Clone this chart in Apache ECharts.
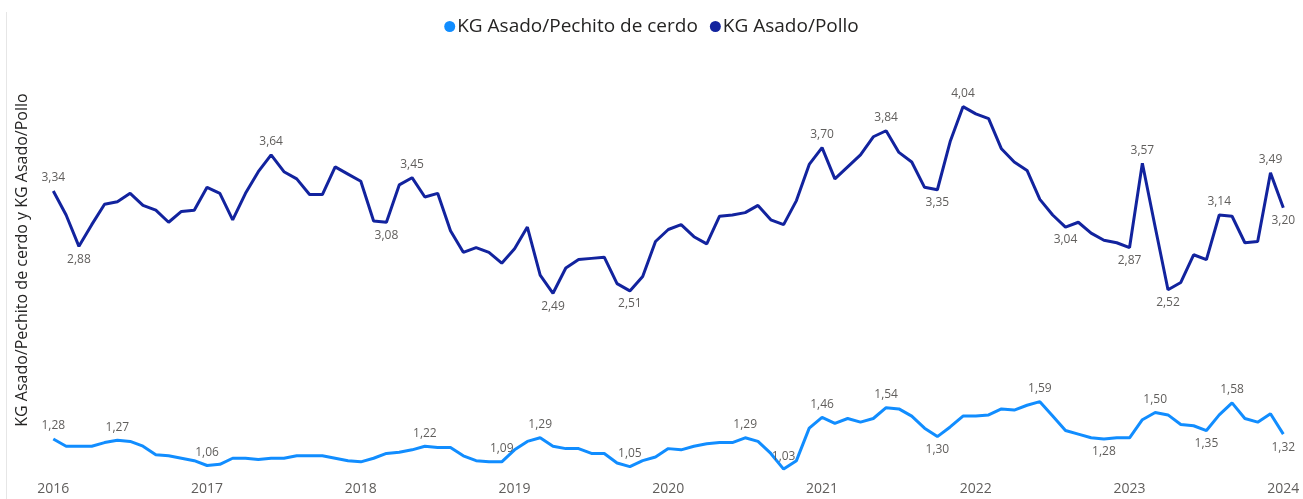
<!DOCTYPE html>
<html>
<head>
<meta charset="utf-8">
<script src="https://cdn.jsdelivr.net/npm/echarts@6/dist/echarts.min.js"></script>
<style>html,body{margin:0;padding:0;background:#fff}#c{width:1303px;height:499px}</style>
</head>
<body>
<div id="c"></div>
<script>
// Monthly categories Jan 2016 .. Jan 2024
const years = [2016, 2017, 2018, 2019, 2020, 2021, 2022, 2023, 2024];
const months = [];
years.forEach(function (y) {
  for (let m = 1; m <= 12; m++) {
    if (y === 2024 && m > 1) break;
    months.push(y + '-' + (m < 10 ? '0' + m : m));
  }
});

const seriesNames = ['KG Asado/Pechito de cerdo', 'KG Asado/Pollo'];

const pechito = [
  1.28, 1.22, 1.22, 1.22, 1.25, 1.27, 1.26, 1.22, 1.15, 1.14, 1.12, 1.10,
  1.06, 1.07, 1.12, 1.12, 1.11, 1.12, 1.12, 1.14, 1.14, 1.14, 1.12, 1.10,
  1.09, 1.12, 1.16, 1.17, 1.19, 1.22, 1.21, 1.21, 1.14, 1.10, 1.09, 1.09,
  1.19, 1.26, 1.29, 1.22, 1.20, 1.20, 1.16, 1.16, 1.08, 1.05, 1.10, 1.13,
  1.20, 1.19, 1.22, 1.24, 1.25, 1.25, 1.29, 1.26, 1.16, 1.03, 1.10, 1.37,
  1.46, 1.41, 1.45, 1.42, 1.45, 1.54, 1.53, 1.47, 1.37, 1.30, 1.38, 1.47,
  1.47, 1.48, 1.53, 1.52, 1.56, 1.59, 1.47, 1.35, 1.32, 1.29, 1.28, 1.29,
  1.29, 1.44, 1.50, 1.48, 1.40, 1.39, 1.35, 1.48, 1.58, 1.45, 1.42, 1.49,
  1.32
];

const pollo = [
  3.34, 3.14, 2.88, 3.06, 3.23, 3.25, 3.32, 3.22, 3.18, 3.08, 3.17, 3.18,
  3.37, 3.32, 3.10, 3.32, 3.50, 3.64, 3.50, 3.44, 3.31, 3.31, 3.54, 3.48,
  3.42, 3.09, 3.08, 3.39, 3.45, 3.29, 3.32, 3.01, 2.83, 2.87, 2.83, 2.74,
  2.86, 3.04, 2.64, 2.49, 2.70, 2.77, 2.78, 2.79, 2.57, 2.51, 2.63, 2.92,
  3.02, 3.06, 2.96, 2.90, 3.13, 3.14, 3.16, 3.22, 3.10, 3.06, 3.26, 3.56,
  3.70, 3.44, 3.54, 3.64, 3.79, 3.84, 3.66, 3.58, 3.37, 3.35, 3.75, 4.04,
  3.98, 3.94, 3.69, 3.58, 3.51, 3.27, 3.14, 3.04, 3.08, 2.99, 2.93, 2.91,
  2.87, 3.57, 3.04, 2.52, 2.58, 2.81, 2.77, 3.14, 3.13, 2.91, 2.92, 3.49,
  3.20
];

// indices of labelled points and where the label sits
const pechitoLabels = {0:'top',5:'top',12:'top',29:'top',35:'top',38:'top',45:'top',54:'top',57:'top',
  60:'top',65:'top',69:'bottom',77:'top',82:'bottom',86:'top',90:'bottom',92:'top',96:'bottom'};
const polloLabels = {0:'top',2:'bottom',17:'top',26:'bottom',28:'top',39:'bottom',45:'bottom',60:'top',
  65:'top',69:'bottom',71:'top',79:'bottom',84:'bottom',85:'top',87:'bottom',91:'top',95:'top',96:'bottom'};

const FONT = "'Open Sans', 'Noto Sans', sans-serif";

function fmt(v) { return v.toFixed(2).replace('.', ','); }
function build(values, labels) {
  return values.map(function (v, i) {
    if (labels[i]) {
      return { value: v, label: { show: true, position: labels[i] } };
    }
    return { value: v };
  });
}

const chart = echarts.init(document.getElementById('c'), null, { renderer: 'canvas' });
const labelStyle = {
  show: false, distance: 7, color: '#605E5C', fontSize: 12, fontFamily: FONT,
  formatter: function (p) { return fmt(p.value); }
};
chart.setOption({
  backgroundColor: '#fff',
  animation: false,
  legend: {
    top: 12, left: 'center', icon: 'circle', itemWidth: 11, itemHeight: 11, itemGap: 12,
    textStyle: { color: '#252423', fontSize: 19, fontFamily: FONT, padding: [0, 0, 0, -3] },
    data: seriesNames
  },
  graphic: [{ type: 'line', shape: { x1: 6.5, y1: 12, x2: 6.5, y2: 499 }, style: { stroke: '#E6E6E6', lineWidth: 1 } }],
  grid: { left: 53.3, right: 19.7, top: 87.4, bottom: 26.3 },
  xAxis: {
    type: 'category', data: months, boundaryGap: false,
    axisLine: { show: false }, axisTick: { show: false },
    axisLabel: {
      interval: 0, margin: 9, color: '#605E5C', fontSize: 14, fontFamily: FONT,
      formatter: function (v) { return v.slice(5) === '01' ? v.slice(0, 4) : ''; }
    },
    splitLine: { show: false }
  },
  yAxis: {
    type: 'value', min: 1.0, max: 4.2,
    name: 'KG Asado/Pechito de cerdo y KG Asado/Pollo', nameLocation: 'middle', nameGap: 23,
    nameTextStyle: { color: '#252423', fontSize: 16, fontFamily: FONT, padding: [0, 0, 0, 40] },
    axisLine: { show: false }, axisTick: { show: false }, axisLabel: { show: false },
    splitLine: { show: false }
  },
  series: [
    {
      name: seriesNames[0], type: 'line', data: build(pechito, pechitoLabels),
      symbol: 'circle', symbolSize: 0, showSymbol: true, showAllSymbol: true,
      lineStyle: { width: 3, color: '#118DFF' }, itemStyle: { color: '#118DFF' },
      label: labelStyle, z: 2
    },
    {
      name: seriesNames[1], type: 'line', data: build(pollo, polloLabels),
      symbol: 'circle', symbolSize: 0, showSymbol: true, showAllSymbol: true,
      lineStyle: { width: 3, color: '#12239E' }, itemStyle: { color: '#12239E' },
      label: labelStyle, z: 3
    }
  ]
});
</script>
</body>
</html>
